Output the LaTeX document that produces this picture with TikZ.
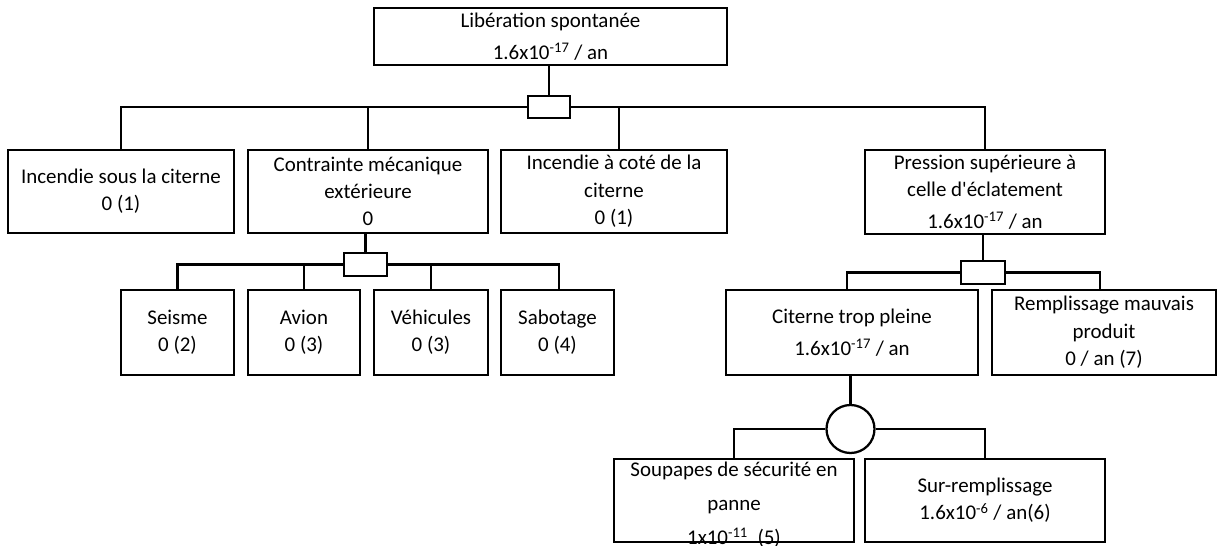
\documentclass[tikz,border=0pt]{standalone}
\usepackage{fontspec}
\setmainfont{Carlito}
\newcommand\pxu{0.75pt}
\begin{document}
\begin{tikzpicture}[x=0.75pt,y=-0.75pt,
  every node/.style={font=\fontsize{15.7}{20.5}\selectfont},
  evt/.style 2 args={draw, line width=1.7pt, rectangle, minimum width=#1*\pxu,
    minimum height=#2*\pxu, inner sep=0pt, align=center},
  andgate/.style 2 args={draw, line width=1.7pt, rectangle, minimum width=#1*\pxu,
    minimum height=#2*\pxu, inner sep=0pt, fill=white},
  orgate/.style={draw, line width=1.7pt, circle, minimum size=48*\pxu,
    inner sep=0pt, fill=white},
  link/.style={line width=1.7pt}]
\useasboundingbox (0,0) rectangle (1218,546);

% top event
\node[evt={353}{57}] (top) at (550.5,36.5)
  {Libération spontanée\\[3.5pt]1.6x10\textsuperscript{-17} / an};
\node[andgate={42}{22}] (g1) at (549,107) {};

% first level
\node[evt={226}{83}] (inc1) at (121,191.5) {Incendie sous la citerne\\0 (1)};
\node[evt={240}{83}] (meca) at (368,191.5) {Contrainte mécanique\\extérieure\\0};
\node[evt={226}{83}] (inc2) at (614,191.5) {Incendie à coté de la\\citerne\\0 (1)};
\node[evt={240}{84}] (pres) at (985,192)
  {Pression supérieure à\\celle d\textquotesingle{}éclatement\\[3.5pt]1.6x10\textsuperscript{-17} / an};

% external mechanical stresses
\node[andgate={43}{23}] (g2) at (365.5,264.5) {};
\node[evt={113}{85}] (seis) at (177.5,332.5) {Seisme\\0 (2)};
\node[evt={112}{85}] (avion) at (304,332.5) {Avion\\0 (3)};
\node[evt={114}{85}] (vehi) at (431,332.5) {Véhicules\\0 (3)};
\node[evt={113}{85}] (sabo) at (557.5,332.5) {Sabotage\\0 (4)};

% overpressure branch
\node[andgate={44}{23}] (g3) at (983,272.5) {};
\node[evt={252}{85}] (plein) at (852,332.5)
  {Citerne trop pleine\\[3.5pt]1.6x10\textsuperscript{-17} / an};
\node[evt={224}{85}] (remp) at (1104,332.5) {Remplissage mauvais\\produit\\0 / an (7)};

\node[orgate] (g4) at (850.5,429) {};
% the valve box keeps its size; its three lines run down onto the lower edge
\node[evt={240}{83}] (soup) at (734,500.5) {};
\node[align=center, inner sep=0pt] (soupt) at (734,505)
  {Soupapes de sécurité en\\[5pt]panne\\[5pt]1x10\textsuperscript{-11}\ \ (5)};
\node[evt={240}{83}] (surr) at (985,500.5) {Sur-remplissage\\1.6x10\textsuperscript{-6} / an(6)};

% connectors
\draw[link] (g1.north) -- (g1.north |- top.south);
\draw[link] (g1.west) -| (inc1.north);
\draw[link] (g1.west) -| (meca.north);
\draw[link] (g1.east) -| ([shift={(5,0)}]inc2.north);
\draw[link] (g1.east) -| (pres.north);

\draw[link] (g2.north) -- (g2.north |- meca.south);
\draw[link] (g2.west) -| (seis.north);
\draw[link] (g2.west) -| (avion.north);
\draw[link] (g2.east) -| (vehi.north);
\draw[link] (g2.east) -| ([shift={(1.5,0)}]sabo.north);

\draw[link] (g3.north) -- (g3.north |- pres.south);
\draw[link] (g3.west) -| ([shift={(-5,0)}]plein.north);
\draw[link] (g3.east) -| ([shift={(-4,0)}]remp.north);

\draw[link] (g4.north) -- (g4.north |- plein.south);
\draw[link] (g4.west) -| (soup.north);
\draw[link] (g4.east) -| (surr.north);
\end{tikzpicture}
\end{document}
